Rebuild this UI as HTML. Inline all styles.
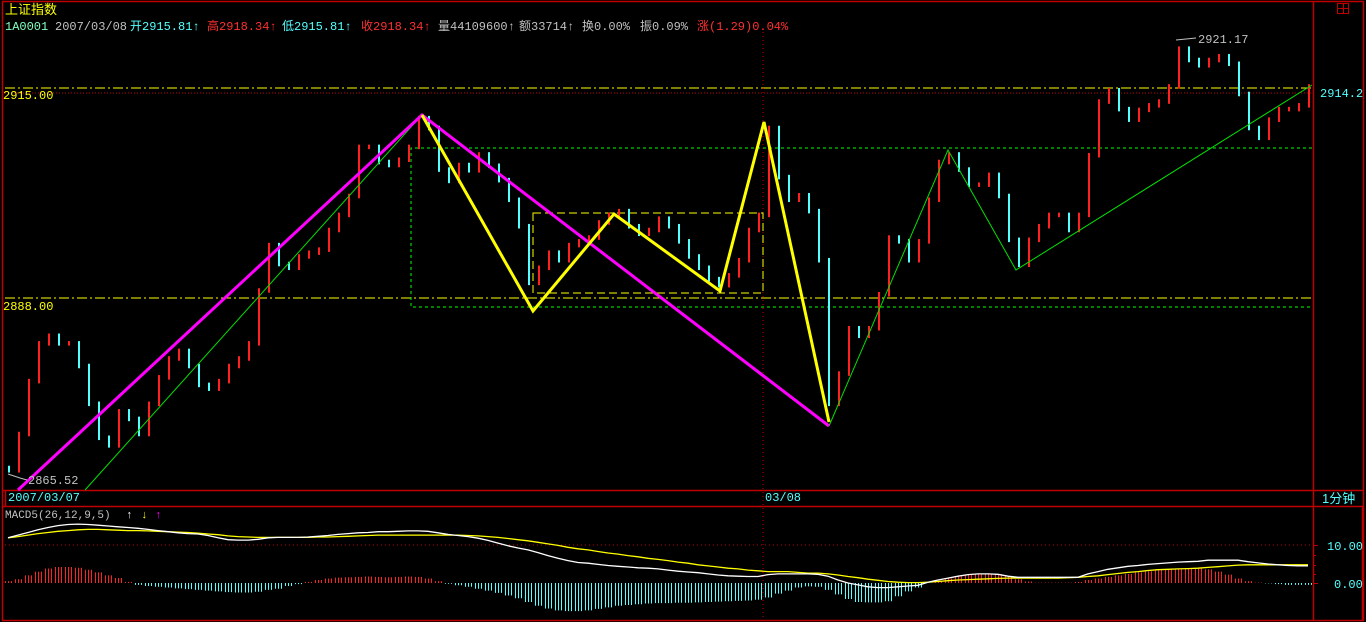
<!DOCTYPE html>
<html><head><meta charset="utf-8">
<style>
html,body{margin:0;padding:0;background:#000;width:1366px;height:622px;overflow:hidden}
svg{display:block}
text{font-family:"Liberation Mono","Noto Sans CJK SC",monospace;font-size:11px}
.cjk{font-family:"Liberation Sans","Noto Sans CJK SC",sans-serif}
.crisp{shape-rendering:crispEdges}
</style></head>
<body>
<svg id="chart" width="1366" height="622" viewBox="0 0 1366 622" xmlns="http://www.w3.org/2000/svg">
  <rect width="1366" height="622" fill="#000"/>
  <g stroke="#c00000" stroke-width="1.5" fill="none">
    <rect x="2.5" y="1.5" width="1361" height="619"/>
    <line x1="1313.5" y1="1" x2="1313.5" y2="621"/>
    <line x1="2" y1="490.5" x2="1364" y2="490.5"/>
    <line x1="2" y1="506.5" x2="1364" y2="506.5"/>
    <line x1="1362.5" y1="506" x2="1362.5" y2="621"/>
    <line x1="5.5" y1="491" x2="5.5" y2="506"/>
  </g>
  <g stroke="#c00000" fill="none">
    <rect x="1337.5" y="3.5" width="11" height="10"/>
    <line x1="1337" y1="8.5" x2="1349" y2="8.5"/>
    <line x1="1343.5" y1="3" x2="1343.5" y2="14"/>
  </g>
  <text x="5" y="14" fill="#ffff00" class="cjk" style="font-size:13px">上证指数</text>
  <g style="font-size:12px">
    <text x="5" y="30" fill="#80ffc0" style="font-size:12px">1A0001</text>
    <text x="55" y="30" fill="#c0c0c0" style="font-size:12px">2007/03/08</text>
    <text x="130" y="30" fill="#54ffff" style="font-size:12px">开2915.81↑</text>
    <text x="207" y="30" fill="#ff3030" style="font-size:12px">高2918.34↑</text>
    <text x="282" y="30" fill="#54ffff" style="font-size:12px">低2915.81↑</text>
    <text x="361" y="30" fill="#ff3030" style="font-size:12px">收2918.34↑</text>
    <text x="438" y="30" fill="#c0c0c0" style="font-size:12px">量44109600↑</text>
    <text x="519" y="30" fill="#c0c0c0" style="font-size:12px">额33714↑</text>
    <text x="582" y="30" fill="#c0c0c0" style="font-size:12px">换0.00%</text>
    <text x="640" y="30" fill="#c0c0c0" style="font-size:12px">振0.09%</text>
    <text x="697" y="30" fill="#ff3030" style="font-size:12px">涨(1.29)0.04%</text>
  </g>
  <line class="crisp" x1="5" y1="88" x2="1312" y2="88" stroke="#ffff00" stroke-dasharray="10,3,2,3"/>
  <line class="crisp" x1="5" y1="298" x2="1312" y2="298" stroke="#ffff00" stroke-dasharray="10,3,2,3"/>
  <line class="crisp" x1="5" y1="93" x2="1312" y2="93" stroke="#c00000" stroke-dasharray="1,2"/>
  <line class="crisp" x1="763" y1="28" x2="763" y2="621" stroke="#c00000" stroke-dasharray="1,3"/>
  <path class="crisp" d="M1312 148 H411 V307 H1312" fill="none" stroke="#00ff00" stroke-dasharray="3,3"/>
  <rect class="crisp" x="533" y="213" width="230" height="80" fill="none" stroke="#ffff00" stroke-dasharray="8,4"/>
  <g id="candles"></g>
  <polyline points="85,490 420,117" fill="none" stroke="#00e000"/>
  <polyline points="829,426 948,150 1016,270 1312,85" fill="none" stroke="#00e000"/>
  <polyline points="18,490 422,115 829,426" fill="none" stroke="#ff00ff" stroke-width="3"/>
  <polyline points="422,115 533,311 614,214 720,291 764,122 829,422" fill="none" stroke="#ffff00" stroke-width="3"/>
  <polyline points="8,474 20,478 27,480" fill="none" stroke="#c0c0c0"/>
  <text x="28" y="484" fill="#c0c0c0" style="font-size:12px">2865.52</text>
  <polyline points="1176,40 1196,38" fill="none" stroke="#c0c0c0"/>
  <text x="1198" y="43" fill="#c0c0c0" style="font-size:12px">2921.17</text>
  <text x="3" y="99" fill="#ffff00" style="font-size:12px">2915.00</text>
  <text x="3" y="310" fill="#ffff00" style="font-size:12px">2888.00</text>
  <text x="1320" y="97" fill="#54ffff" style="font-size:12px">2914.2</text>
  <text x="8" y="501" fill="#54ffff" style="font-size:12px">2007/03/07</text>
  <text x="765" y="501" fill="#54ffff" style="font-size:12px">03/08</text>
  <text x="1322" y="503" fill="#54ffff" class="cjk" style="font-size:13px">1分钟</text>
  <text x="5" y="518" fill="#c0c0c0">MACD5(26,12,9,5)</text>
  <text x="126" y="518" fill="#ffffff">↑</text>
  <text x="141" y="518" fill="#ffff00">↓</text>
  <text x="155" y="518" fill="#ff00ff">↑</text>
  <line class="crisp" x1="5" y1="545" x2="1312" y2="545" stroke="#c00000" stroke-dasharray="1,3"/>
  <g stroke="#c00000"><line x1="1313" y1="545.5" x2="1318" y2="545.5"/><line x1="1313" y1="583.5" x2="1318" y2="583.5"/><line x1="1313" y1="555.5" x2="1316" y2="555.5"/><line x1="1313" y1="565.5" x2="1316" y2="565.5"/><line x1="1313" y1="574.5" x2="1316" y2="574.5"/></g>
  <text x="1327" y="550" fill="#54ffff" style="font-size:12px">10.00</text>
  <text x="1334" y="588" fill="#54ffff" style="font-size:12px">0.00</text>
  <g id="macd"></g>
</svg>
<script>
const prices = [2865.2,2870,2877,2882,2883,2882,2882,2879,2874,2869.5,2868.5,2873,2872,2870,2874,2877.5,2880,2881,2879,2876.5,2876,2877,2879,2880,2882,2889,2895,2892.5,2892,2893.5,2894,2894.4,2897,2899,2901.5,2908,2908,2906,2905.6,2906.3,2908,2911.8,2910.5,2905,2903.5,2905.6,2904.9,2907,2905.5,2903.6,2901,2897.5,2890,2892,2894,2893,2895,2895.5,2896,2898,2899,2899.5,2897.5,2896.5,2897,2898.5,2897.5,2895.5,2893.5,2892,2890.5,2889.7,2891,2893,2897,2899,2910.5,2904,2901,2901.6,2899.5,2893,2874,2878,2884,2883,2884,2888.5,2896,2895.5,2893,2895.5,2901,2906,2907,2905,2903,2903,2904.3,2901.5,2895.7,2892.4,2895.7,2897.5,2899,2899,2897,2899,2906.9,2914,2915.5,2913,2911.6,2912.9,2913.5,2914,2916,2921,2919.5,2918.8,2919.5,2920,2919,2915,2910.5,2909.2,2911.6,2913,2913,2913.5,2916];
const difValues = [11.9,12.6,13.3,14,14.6,15.1,15.4,15.5,15.4,15.2,15,14.8,14.6,14.4,14.1,13.8,13.5,13.2,13.0,12.9,12.5,11.9,11.4,11.3,11.3,11.5,11.9,12,12,12,12.1,12.3,12.5,12.8,13,13.2,13.3,13.5,13.5,13.6,13.7,13.7,13.6,13.2,12.8,12.5,12.2,11.8,11.2,10.5,9.8,9.2,8.7,8.0,7.2,6.5,5.9,5.4,5.2,4.9,4.6,4.4,4.2,4.0,3.9,3.7,3.4,3.1,2.9,2.7,2.4,2.1,1.9,1.8,1.7,1.7,2.2,2.4,2.4,2.4,2.4,2.3,1.8,0.8,0.0,-0.5,-1.0,-1.2,-1.2,-1.0,-0.8,-0.6,0.2,0.8,1.3,1.8,2.2,2.4,2.4,2.3,1.8,1.5,1.5,1.5,1.5,1.5,1.5,1.5,2.4,3.0,3.6,4.0,4.4,4.6,4.9,5.1,5.3,5.5,5.6,5.7,6,6,6,6,5.6,5.3,5,4.8,4.6,4.5,4.5];
const deaValues = [11.9,12.2,12.6,13,13.3,13.6,13.8,14,14.1,14.1,14,13.9,13.8,13.8,13.7,13.6,13.5,13.4,13.3,13.1,12.9,12.7,12.4,12.2,12.1,12.0,12,12,12,12,12,12.1,12.1,12.2,12.3,12.4,12.5,12.6,12.6,12.6,12.6,12.6,12.6,12.6,12.6,12.6,12.5,12.4,12.2,12.0,11.7,11.4,11.1,10.7,10.3,9.9,9.4,9.0,8.7,8.3,7.9,7.6,7.2,6.9,6.5,6.2,5.9,5.5,5.2,4.8,4.5,4.2,3.9,3.7,3.4,3.2,3.0,3.0,3.0,2.8,2.6,2.6,2.4,2.1,1.7,1.4,1.0,0.7,0.4,0.2,0.1,0.1,0.2,0.4,0.6,0.8,0.9,1.0,1.1,1.2,1.3,1.3,1.3,1.3,1.3,1.3,1.4,1.5,1.7,1.9,2.2,2.5,2.8,3.0,3.3,3.5,3.6,3.7,3.8,3.9,4.1,4.3,4.5,4.7,4.8,4.8,4.8,4.8,4.8,4.8,4.8];
const histValues = [0.5,1,2,3,3.8,4.2,4.2,4,3.5,2.8,2,1.3,0.3,-0.5,-0.8,-1,-1.2,-1.4,-1.6,-1.8,-2,-2.2,-2.4,-2.5,-2.5,-2.3,-1.8,-1.5,-0.8,-0.3,0.3,0.8,1.2,1.4,1.5,1.6,1.7,1.6,1.5,1.6,1.7,1.6,1.2,0.5,-0.2,-0.6,-1,-1.5,-2,-2.6,-3.3,-4,-5,-6,-6.7,-7.2,-7.4,-7.4,-7.2,-6.8,-6.4,-6,-5.8,-5.6,-5.4,-5.3,-5.3,-5.2,-5.2,-5.1,-5,-4.9,-4.8,-4.7,-4.6,-4.4,-3.8,-2.8,-2,-1.2,-0.9,-1,-1.8,-3,-4.2,-5,-5.1,-5.1,-4.8,-3.5,-2.2,-1.2,0,0.6,1.2,1.8,2.2,2.4,2.4,2.3,1.8,1,0.4,0.1,0.1,0.1,0.1,0.3,0.8,1.2,1.6,2,2.4,2.8,3.1,3.4,3.6,3.8,3.9,3.8,3.6,3,2.2,1.2,0.5,0.1,-0.1,-0.3,-0.5,-0.5,-0.5];

const NS = 'http://www.w3.org/2000/svg';
function xAt(i){ return 8 + i*10; }
function yPrice(p){ return 94 + (2915 - p) * 7.556; }
function yMacd(v){ return 583 - v * 3.8; }

const cg = document.getElementById('candles');
for (let i = 0; i < prices.length; i++) {
  const o = i > 0 ? prices[i-1] : prices[i] + 0.3;
  const c = prices[i];
  const hi = Math.max(o, c) + 0.3, lo = Math.min(o, c) - 0.3;
  const r = document.createElementNS(NS, 'rect');
  r.setAttribute('x', xAt(i));
  r.setAttribute('y', yPrice(hi));
  r.setAttribute('width', 2);
  r.setAttribute('height', Math.max(2, yPrice(lo) - yPrice(hi)));
  r.setAttribute('fill', c >= o ? '#ff2020' : '#54ffff');
  
  
  cg.appendChild(r);
}

const mg = document.getElementById('macd');
for (let i = 0; i < histValues.length; i++) {
  const v = histValues[i];
  for (const off of [-3, 0, 3]) {
    const l = document.createElementNS(NS, 'line');
    l.setAttribute('x1', xAt(i) + off + 0.5);
    l.setAttribute('x2', xAt(i) + off + 0.5);
    l.setAttribute('y1', yMacd(0));
    l.setAttribute('y2', yMacd(v));
    l.setAttribute('stroke', v >= 0 ? '#ff2020' : '#54ffff');
    
    
    mg.appendChild(l);
  }
}
function addLine(vals, color, name) {
  const pl = document.createElementNS(NS, 'polyline');
  pl.setAttribute('points', vals.map((v, i) => xAt(i) + ',' + yMacd(v).toFixed(1)).join(' '));
  pl.setAttribute('fill', 'none');
  pl.setAttribute('stroke', color);
  pl.setAttribute('stroke-width', '1.3');
  
  
  mg.appendChild(pl);
}
addLine(deaValues, '#ffff00', 'dea-line');
addLine(difValues, '#ffffff', 'dif-line');
</script>
</body></html>
